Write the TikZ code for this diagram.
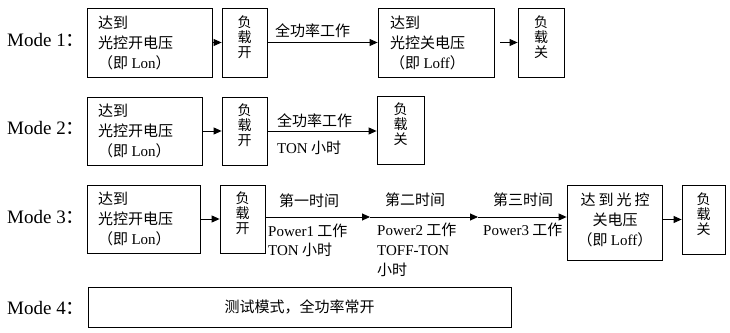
\documentclass[tikz,border=0pt]{standalone}
\usepackage{fontspec}
\setmainfont{Liberation Serif}
\newfontfamily\cj{Noto Sans CJK SC}
\usetikzlibrary{arrows.meta}
\newcommand\lt[1]{{\rmfamily\fontsize{15}{20}\selectfont #1}}
\begin{document}
\begin{tikzpicture}[x=1pt,y=-1pt,
  box/.style 2 args={draw=black,line width=0.8pt,minimum width=#1,minimum height=#2,inner sep=0pt},
  modelbl/.style={font=\fontsize{19}{22}\selectfont,anchor=base west,inner sep=0pt},
  blk/.style={font=\cj\fontsize{15}{20}\selectfont,align=left,anchor=west,inner sep=0pt},
  blkc/.style={font=\cj\fontsize{15}{20}\selectfont,align=center,inner sep=0pt},
  vert/.style={font=\cj\fontsize{14}{15}\selectfont,align=center,inner sep=0pt},
  lbl/.style={font=\cj\fontsize{15}{18}\selectfont,anchor=west,inner sep=0pt},
  arr/.style={line width=0.9pt,-{Triangle[length=8pt,width=7pt]}}]
\useasboundingbox (0,0) rectangle (730,332);

% ---------- Mode 1
\node[modelbl] (m1) at (7,46.5) {Mode 1{\cj ：}};
\node[box={125}{69}] (b11) at (149.5,42.5) {};
\node[blk] (t11) at (98,43) {达到\\光控开电压\\（即 \lt{Lon}）};
\node[box={45}{69}] (b12) at (244.5,42.5) {};
\node[vert] (t12) at (244.5,37) {负\\载\\开};
\node[box={116}{69}] (b13) at (436,42.5) {};
\node[blk] (t13) at (390,43) {达到\\光控关电压\\（即 \lt{Loff}）};
\node[box={46}{69}] (b14) at (541,42.5) {};
\node[vert] (t14) at (541,37) {负\\载\\关};
\draw[arr] (b11) -- (b12);
\draw[arr] (b12) -- (b13);
\node[lbl] (a12) at (275,31) {全功率工作};
\draw[arr,shorten <=6pt] (b13) -- (b14);

% ---------- Mode 2
\node[modelbl] (m2) at (7,134.5) {Mode 2{\cj ：}};
\node[box={115}{68}] (b21) at (144.5,131) {};
\node[blk] (t21) at (98,131) {达到\\光控开电压\\（即 \lt{Lon}）};
\node[box={45}{68}] (b22) at (244.5,131) {};
\node[vert] (t22) at (244.5,125.5) {负\\载\\开};
\node[box={47}{68}] (b23) at (400.5,130) {};
\node[vert] (t23) at (400.5,124.5) {负\\载\\关};
\draw[arr] (b21) -- (b22);
\draw[arr] (b22) -- (b22 -| b23.west);
\node[lbl] (a22a) at (277,121) {全功率工作};
\node[lbl] (a22b) at (277,148) {\lt{TON} 小时};

% ---------- Mode 3
\node[modelbl] (m3) at (7,223.5) {Mode 3{\cj ：}};
\node[box={113}{68}] (b31) at (143.5,219) {};
\node[blk] (t31) at (98,219) {达到\\光控开电压\\（即 \lt{Lon}）};
\node[box={45}{68}] (b32) at (242.5,219) {};
\node[vert] (t32) at (242.5,213.5) {负\\载\\开};
\node[box={95}{75}] (b33) at (614.5,222.5) {};
\node[blkc] (t33) at (615,219.5) {达\hspace{3pt}到\hspace{3pt}光\hspace{3pt}控\\关电压\\（即 \lt{Loff}）};
\node[box={43}{69}] (b34) at (703.5,219.5) {};
\node[vert] (t34) at (703.5,214) {负\\载\\关};
\coordinate (c31) at (370,217);
\coordinate (c32) at (478,217);
\draw[arr] (b31) -- (b32);
\draw[arr] (b32.east |- c31) -- (c31);
\draw[arr] (c31) -- (c32);
\draw[arr] (c32) -- (c32 -| b33.west);
\draw[arr] (b33.east |- b34) -- (b34);
\node[lbl] (a31a) at (279,201) {第一时间};
\node[lbl] (a31b) at (268,231) {\lt{Power1} 工作};
\node[lbl] (a31c) at (268,250) {\lt{TON} 小时};
\node[lbl] (a32a) at (385,200) {第二时间};
\node[lbl] (a32b) at (377,230) {\lt{Power2} 工作};
\node[lbl] (a32c) at (377,251) {\lt{TOFF-TON}};
\node[lbl] (a32d) at (377,270) {小时};
\node[lbl] (a33a) at (493,200) {第三时间};
\node[lbl] (a33b) at (483,230) {\lt{Power3} 工作};

% ---------- Mode 4
\node[modelbl] (m4) at (7,314.5) {Mode 4{\cj ：}};
\node[box={423}{40},font=\cj\fontsize{15}{18}\selectfont] (b4) at (299.5,307) {测试模式，全功率常开};
\end{tikzpicture}
\end{document}
